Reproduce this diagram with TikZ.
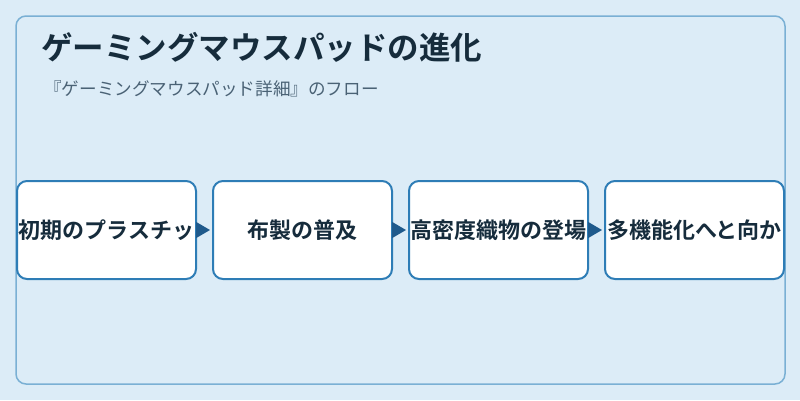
\documentclass[tikz,border=0pt]{standalone}
\usepackage{fontspec}
\setmainfont{Noto Sans CJK JP}
\newfontfamily\jpbold{Noto Sans CJK JP Bold}
\usetikzlibrary{arrows.meta}
\definecolor{bgc}{RGB}{220,236,247}
\definecolor{framec}{RGB}{122,176,212}
\definecolor{boxc}{RGB}{46,125,182}
\definecolor{arrc}{RGB}{31,90,140}
\definecolor{titlec}{RGB}{22,44,60}
\definecolor{subc}{RGB}{74,98,117}
\tikzset{
  stepbox/.style={draw=boxc, line width=2pt, fill=white, rounded corners=10pt,
    minimum width=179pt, minimum height=98pt, inner sep=0pt,
    font=\jpbold\fontsize{22}{26}\selectfont, text=titlec},
  flowarrow/.style={draw=arrc, line width=1.5pt, -{Triangle[length=14pt,width=16pt]}, shorten >=2pt, shorten <=0pt}
}
\begin{document}
\begin{tikzpicture}[x=1pt,y=-1pt]
\useasboundingbox (0,0) rectangle (800,400);
\fill[bgc] (0,0) rectangle (800,400);
\draw[framec, line width=1.5pt, rounded corners=10pt] (16,16) rectangle (785,384);
\node[anchor=west, inner sep=0pt, text=titlec, font=\jpbold\fontsize{31.5}{36}\selectfont] (title) at (41,47) {ゲーミングマウスパッドの進化};
\node[anchor=west, inner sep=0pt, text=subc, font=\fontsize{17.6}{21}\selectfont] (sub) at (44,89) {『ゲーミングマウスパッド詳細』のフロー};
\node[stepbox] (b1) at (106.5,230) {初期のプラスチッ};
\node[stepbox] (b2) at (302.5,230) {布製の普及};
\node[stepbox] (b3) at (498.5,230) {高密度織物の登場};
\node[stepbox] (b4) at (694.5,230) {多機能化へと向か};
\draw[flowarrow] (b1) -- (b2);
\draw[flowarrow] (b2) -- (b3);
\draw[flowarrow] (b3) -- (b4);
\end{tikzpicture}
\end{document}
